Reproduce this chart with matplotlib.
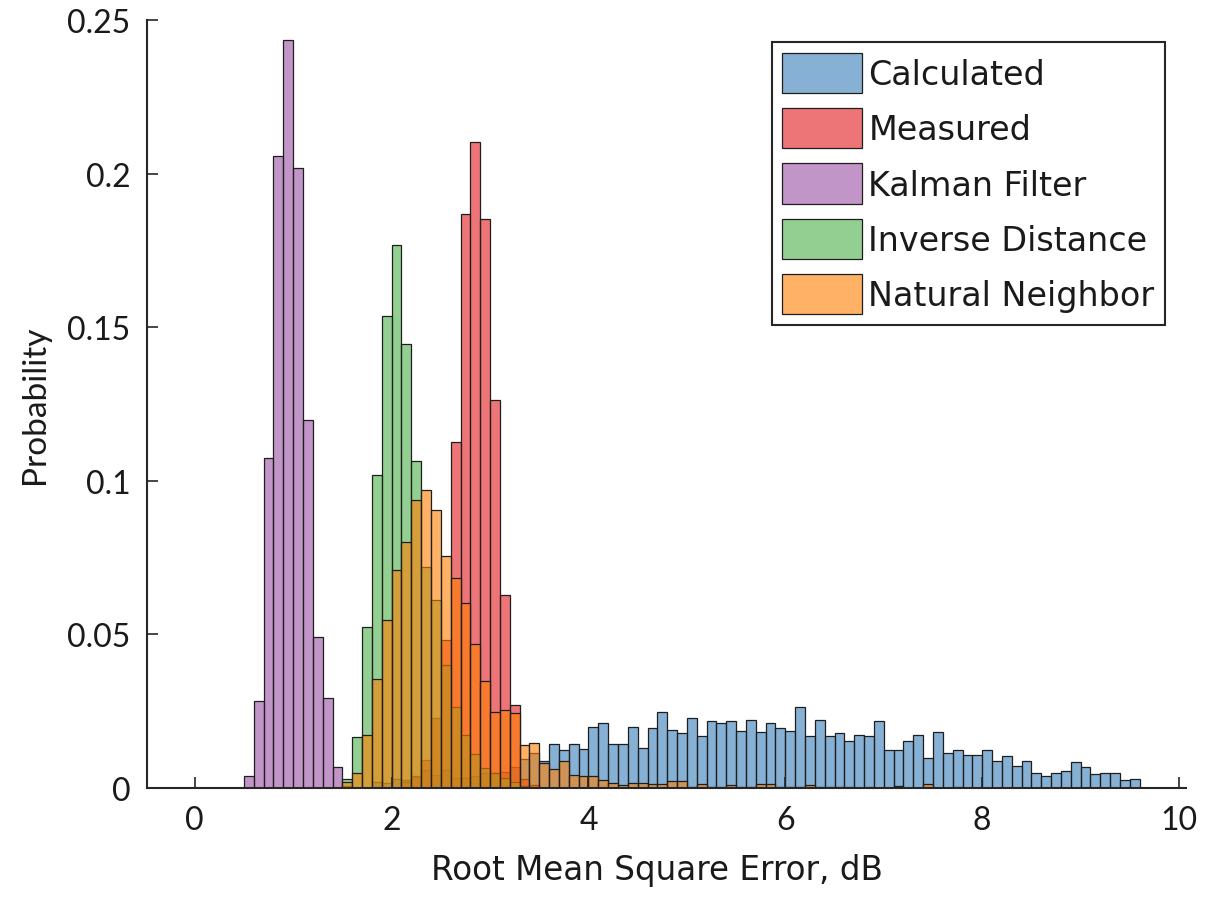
import matplotlib
matplotlib.use("Agg")
import matplotlib.pyplot as plt
from matplotlib.colors import to_rgba
from matplotlib.patches import Patch
import numpy as np

plt.rcParams['font.family'] = ['Lato', 'DejaVu Sans']

BIN_W = 0.1

# Calculated (blue), bins starting at 1.8
calc_start = 1.8
calc_vals = [0.0020, 0.0017, 0.0030, 0.0027, 0.0036, 0.0058, 0.0041, 0.0058, 0.0034, 0.0034,
             0.0040, 0.0050, 0.0050, 0.0052, 0.0068, 0.0095, 0.0115, 0.0088, 0.0144, 0.0123,
             0.0144, 0.0128, 0.0200, 0.0212, 0.0143, 0.0143, 0.0200, 0.0130, 0.0194, 0.0246,
             0.0190, 0.0179, 0.0227, 0.0170, 0.0219, 0.0210, 0.0219, 0.0187, 0.0222, 0.0183,
             0.0212, 0.0194, 0.0187, 0.0263, 0.0170, 0.0222, 0.0170, 0.0178, 0.0154, 0.0174,
             0.0168, 0.0217, 0.0125, 0.0125, 0.0154, 0.0171, 0.0098, 0.0181, 0.0114, 0.0125,
             0.0109, 0.0109, 0.0125, 0.0089, 0.0104, 0.0071, 0.0089, 0.0050, 0.0040, 0.0050,
             0.0054, 0.0086, 0.0068, 0.0046, 0.0050, 0.0050, 0.0025, 0.0029]

# Measured (red), bins starting at 2.1
meas_start = 2.1
meas_vals = [0.0020, 0.0040, 0.0090, 0.0227, 0.0481, 0.1127, 0.1870, 0.2102, 0.1851, 0.1263,
             0.0627, 0.0270, 0.0030, 0.0010]

# Kalman Filter (purple), bins starting at 0.5
kal_start = 0.5
kal_vals = [0.0040, 0.0283, 0.1075, 0.2057, 0.2434, 0.2019, 0.1198, 0.0490, 0.0292, 0.0070,
            0.0008]

# Inverse Distance (green), bins starting at 1.5
inv_start = 1.5
inv_vals = [0.0030, 0.0165, 0.0523, 0.1020, 0.1536, 0.1767, 0.1444, 0.1063, 0.0721, 0.0611,
            0.0402, 0.0265, 0.0174, 0.0110, 0.0065, 0.0050, 0.0033, 0.0018, 0.0008]

# Natural Neighbor (orange), bins starting at 1.5
nat_start = 1.5
nat_vals = [0.0018, 0.0050, 0.0171, 0.0354, 0.0546, 0.0709, 0.0801, 0.0939, 0.0971, 0.0905,
            0.0754, 0.0684, 0.0601, 0.0468, 0.0349, 0.0249, 0.0254, 0.0244, 0.0141, 0.0148,
            0.0081, 0.0063, 0.0088, 0.0043, 0.0039, 0.0039, 0.0025, 0.0016, 0.0009, 0.0016,
            0.0016, 0.0012, 0.0012, 0.0022, 0.0022, 0.0004, 0.0012, 0.0004, 0.0002, 0.0009,
            0.0004, 0.0002, 0.0012, 0.0012, 0.0004, 0.0002, 0.0002, 0.0009, 0.0002, 0.0002,
            0.0002, 0.0002, 0.0000, 0.0002, 0.0000, 0.0000, 0.0006, 0.0000, 0.0000, 0.0012,
            0.0000, 0.0000, 0.0004]

labels = ["Calculated", "Measured", "Kalman Filter", "Inverse Distance", "Natural Neighbor"]
colors = ["#377eb8", "#e41a1c", "#984ea3", "#4daf4a", "#ff7f00"]
series = [(calc_start, calc_vals), (meas_start, meas_vals), (kal_start, kal_vals),
          (inv_start, inv_vals), (nat_start, nat_vals)]

ALPHA = 0.6
EDGE = "#1e1e1e"
TXT = "#1a1a1a"
WIDE = ['DejaVu Sans']

fig = plt.figure(figsize=(12.21, 9.04), dpi=100)
ax = fig.add_axes([0.1204, 0.1272, 0.8509, 0.8496])

for (start, vals), col in zip(series, colors):
    vals = np.array(vals)
    edges = np.round(start + BIN_W * np.arange(len(vals)), 4)
    ax.bar(edges, vals, width=BIN_W, align='edge',
           facecolor=to_rgba(col, ALPHA), edgecolor=EDGE, linewidth=0.9)

ax.set_xlim(-0.485, 10.07)
ax.set_ylim(0, 0.25)
ax.set_xticks([0, 2, 4, 6, 8, 10])
ax.set_xticklabels(["0", "2", "4", "6", "8", "10"])
ax.set_yticks([0, 0.05, 0.1, 0.15, 0.2, 0.25])
ax.set_yticklabels(["0", "0.05", "0.1", "0.15", "0.2", "0.25"])

for s in ["top", "right"]:
    ax.spines[s].set_visible(False)
for s in ["left", "bottom"]:
    ax.spines[s].set_color("#262626")
    ax.spines[s].set_linewidth(1.5)

ax.tick_params(axis='both', direction='in', length=8, width=1.2, color="#262626",
               labelsize=23, labelcolor=TXT)
ax.tick_params(axis='x', pad=12)
ax.tick_params(axis='y', pad=12)

ax.set_xlabel("Root Mean Square Error, dB", fontsize=23.5, color=TXT, family=WIDE)
ax.xaxis.set_label_coords(0.491, -0.085)
ax.set_ylabel("Probability", fontsize=24, color=TXT, labelpad=12)

handles = [Patch(facecolor=to_rgba(c, ALPHA), edgecolor=EDGE, linewidth=0.9) for c in colors]
leg = ax.legend(handles, labels, loc='upper right', bbox_to_anchor=(0.98, 0.971),
                prop={'family': WIDE, 'size': 24},
                frameon=True, fancybox=False, framealpha=1,
                edgecolor="#262626", borderaxespad=0, borderpad=0.32,
                handlelength=2.4, handleheight=1.48, handletextpad=0.18, labelspacing=0.45)
leg.get_frame().set_linewidth(1.5)
for t in leg.get_texts():
    t.set_color(TXT)

fig.savefig("out.png", dpi=100)
